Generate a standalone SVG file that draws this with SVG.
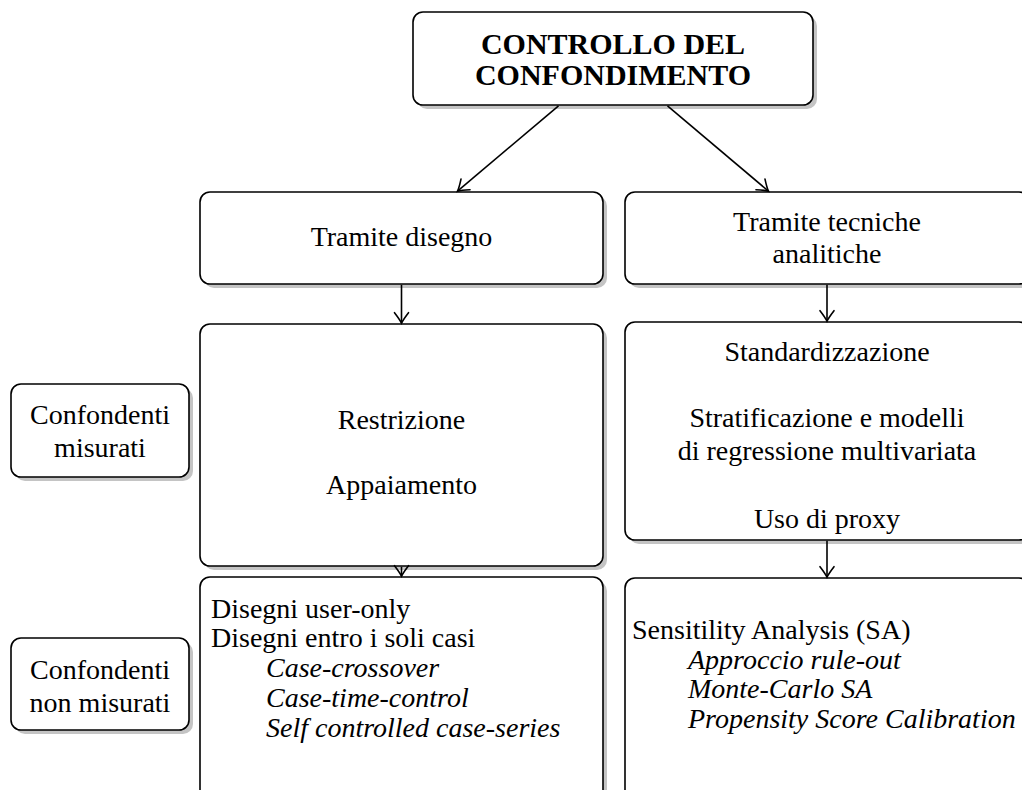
<svg xmlns="http://www.w3.org/2000/svg" width="1022" height="790" viewBox="0 0 1022 790">
  <style>
    .box { fill: #ffffff; stroke: #000000; stroke-width: 1.6; }
    .shadow { fill: #c4c4c4; stroke: none; }
    text { font-family: "Liberation Serif", "Times New Roman", serif; font-size: 28px; fill: #000000; }
    .c { text-anchor: middle; }
    .b { font-weight: bold; font-size: 30px; }
    .i { font-style: italic; }
    .edge { stroke: #000000; stroke-width: 1.6; fill: none; marker-end: url(#tip); }
  </style>
  <defs>
    <marker id="tip" markerUnits="userSpaceOnUse" markerWidth="18" markerHeight="18" refX="0" refY="0" viewBox="-14 -9 18 18" orient="auto">
      <path d="M -10.5,-7 Q -3.5,-1.6 0,0 Q -3.5,1.6 -10.5,7" fill="none" stroke="#000000" stroke-width="1.6" stroke-linecap="round"/>
    </marker>
  </defs>

  <rect width="1022" height="790" fill="#ffffff"/>

  <!-- root -->
  <g id="controllo">
    <rect class="shadow" x="417" y="16" width="400" height="93" rx="10"/>
    <rect class="box" x="413" y="12" width="400" height="93" rx="10"/>
    <text class="c b" x="613" y="54">CONTROLLO DEL</text>
    <text class="c b" x="613" y="85">CONFONDIMENTO</text>
  </g>

  <!-- first level -->
  <g id="disegno">
    <rect class="shadow" x="204" y="196" width="403" height="92" rx="10"/>
    <rect class="box" x="200" y="192" width="403" height="92" rx="10"/>
    <text class="c" x="401.5" y="246">Tramite disegno</text>
  </g>
  <g id="analitiche">
    <rect class="shadow" x="629" y="196" width="404" height="92" rx="10"/>
    <rect class="box" x="625" y="192" width="404" height="92" rx="10"/>
    <text class="c" x="827" y="231">Tramite tecniche</text>
    <text class="c" x="827" y="263">analitiche</text>
  </g>

  <!-- measured confounders -->
  <g id="misurati">
    <rect class="shadow" x="15" y="388" width="178" height="93" rx="10"/>
    <rect class="box" x="11" y="384" width="178" height="93" rx="10"/>
    <text class="c" x="100" y="424">Confondenti</text>
    <text class="c" x="100" y="457">misurati</text>
  </g>
  <g id="restrizione">
    <rect class="shadow" x="204" y="328" width="403" height="242" rx="10"/>
    <rect class="box" x="200" y="324" width="403" height="242" rx="10"/>
    <text class="c" x="401.5" y="429">Restrizione</text>
    <text class="c" x="401.5" y="494">Appaiamento</text>
  </g>
  <g id="standardizzazione">
    <rect class="shadow" x="629" y="326" width="404" height="218" rx="10"/>
    <rect class="box" x="625" y="322" width="404" height="218" rx="10"/>
    <text class="c" x="827" y="361">Standardizzazione</text>
    <text class="c" x="827" y="427">Stratificazione e modelli</text>
    <text class="c" x="827" y="460">di regressione multivariata</text>
    <text class="c" x="827" y="528">Uso di proxy</text>
  </g>

  <!-- unmeasured confounders -->
  <g id="non-misurati">
    <rect class="shadow" x="15" y="642" width="178" height="92" rx="10"/>
    <rect class="box" x="11" y="638" width="178" height="92" rx="10"/>
    <text class="c" x="100" y="679">Confondenti</text>
    <text class="c" x="100" y="712">non misurati</text>
  </g>
  <g id="disegni-casi">
    <rect class="shadow" x="204" y="581" width="403" height="240" rx="10"/>
    <rect class="box" x="200" y="577" width="403" height="240" rx="10"/>
    <text x="211" y="617.5">Disegni user-only</text>
    <text x="211" y="647">Disegni entro i soli casi</text>
    <text class="i" x="266" y="677">Case-crossover</text>
    <text class="i" x="266" y="706.5">Case-time-control</text>
    <text class="i" x="266" y="736.5">Self controlled case-series</text>
  </g>
  <g id="sensitivity">
    <rect class="shadow" x="629" y="582" width="404" height="240" rx="10"/>
    <rect class="box" x="625" y="578" width="404" height="240" rx="10"/>
    <text x="632" y="639">Sensitility Analysis (SA)</text>
    <text class="i" x="688" y="668.5">Approccio rule-out</text>
    <text class="i" x="688" y="698">Monte-Carlo SA</text>
    <text class="i" x="688" y="727.5">Propensity Score Calibration</text>
  </g>

  <!-- connectors -->
  <g id="connectors">
    <line class="edge" x1="558.5" y1="105.8" x2="457.5" y2="191.2"/>
    <line class="edge" x1="667.5" y1="105.8" x2="768.5" y2="191.2"/>
    <line class="edge" x1="401.5" y1="284.8" x2="401.5" y2="323.2"/>
    <line class="edge" x1="827" y1="284.8" x2="827" y2="321.2"/>
    <line class="edge" x1="401.5" y1="566.8" x2="401.5" y2="576.2"/>
    <line class="edge" x1="827" y1="540.8" x2="827" y2="577.2"/>
  </g>
</svg>
